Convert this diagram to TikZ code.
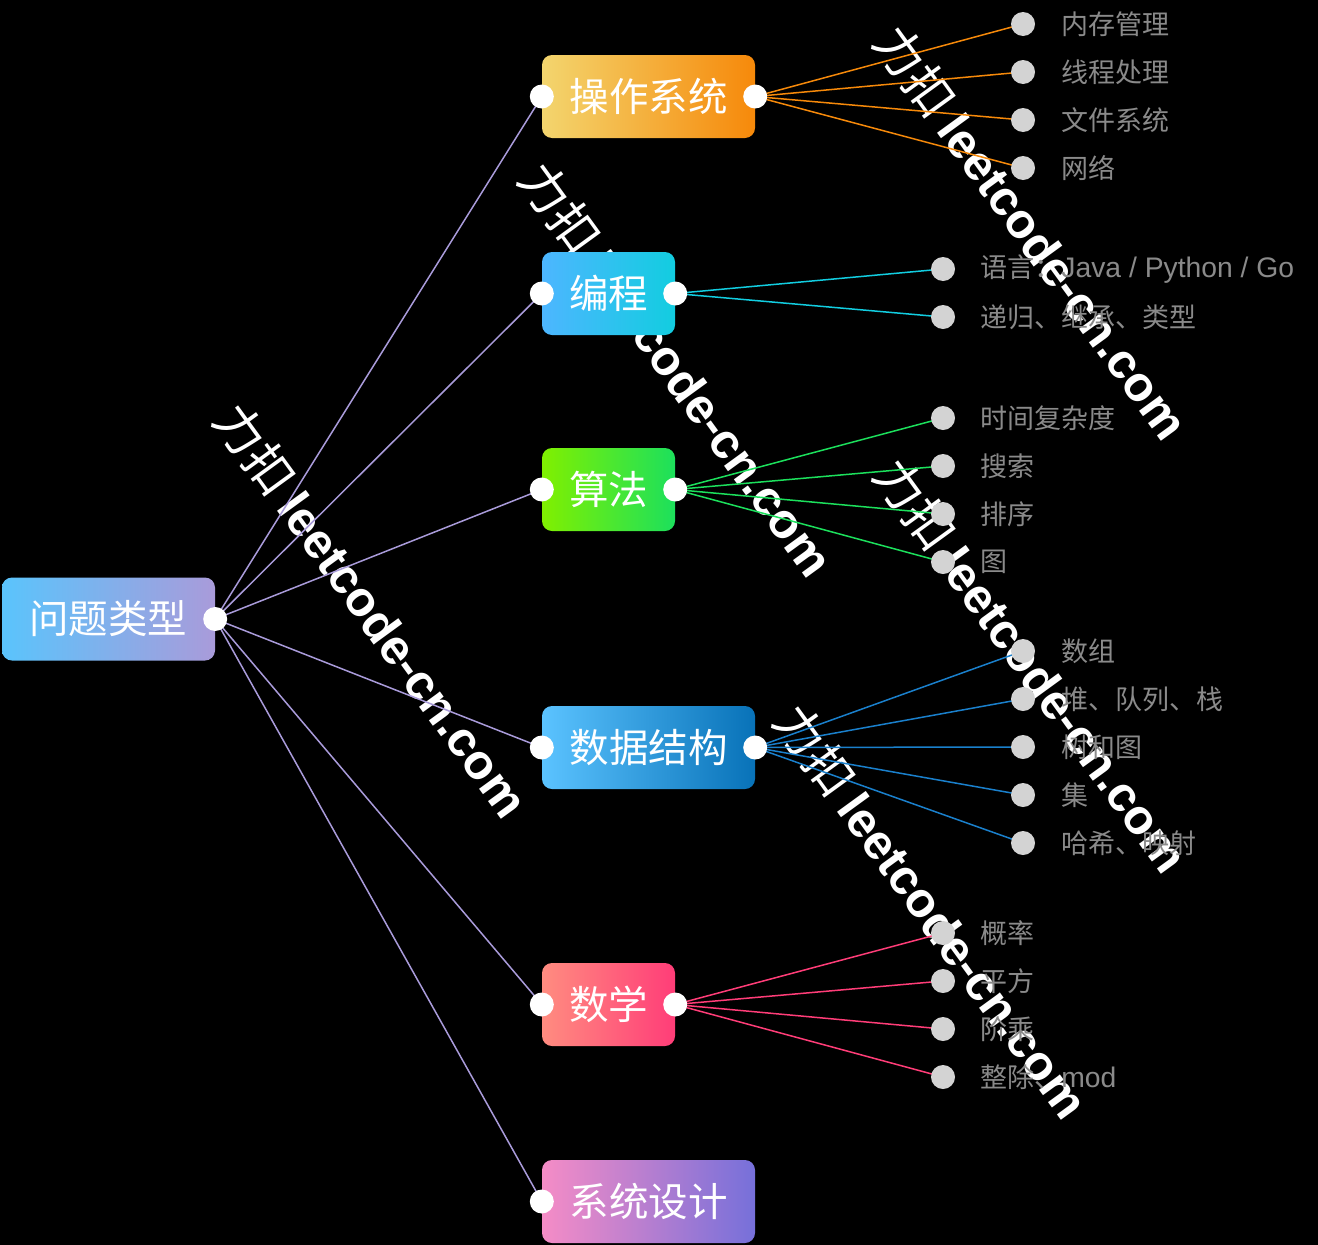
\documentclass[tikz,border=0pt]{standalone}
\usepackage{fontspec}
\setmainfont{Noto Sans CJK SC}
\newfontfamily\wmlat{Liberation Sans}
\pgfdeclarelayer{back}
\pgfdeclarelayer{lines}
\pgfsetlayers{back,lines,main}
\definecolor{rootL}{HTML}{5AC4FC}
\definecolor{rootR}{HTML}{A99BDA}
\definecolor{osL}{HTML}{F3D56E}
\definecolor{osR}{HTML}{F6890A}
\definecolor{pgL}{HTML}{4DB6FF}
\definecolor{pgR}{HTML}{12CDE0}
\definecolor{alL}{HTML}{80F000}
\definecolor{alR}{HTML}{1CE05C}
\definecolor{dsL}{HTML}{5BC3FF}
\definecolor{dsR}{HTML}{0872B8}
\definecolor{maL}{HTML}{FF8C80}
\definecolor{maR}{HTML}{FF3D78}
\definecolor{sdL}{HTML}{F58CC6}
\definecolor{sdR}{HTML}{7670DA}
\definecolor{dotgray}{HTML}{D3D3D3}
\definecolor{leafgray}{HTML}{8A8A8A}
\definecolor{dsline}{HTML}{1A80CC}
\newcommand{\latpart}[1]{{\wmlat\fontsize{28.3}{28.3}\selectfont #1}}
\tikzset{
  box/.style={rectangle, rounded corners=10pt, minimum height=83pt, text=white,
    font=\fontsize{39.5}{39.5}\selectfont, inner sep=0pt},
  wide/.style={minimum width=213pt},
  narrow/.style={minimum width=133pt},
  wdot/.style={circle, fill=white, minimum size=24pt, inner sep=0pt},
  gdot/.style={circle, fill=dotgray, minimum size=24pt, inner sep=0pt},
  leaf/.style={anchor=west, inner sep=0pt, text=leafgray, font=\fontsize{27}{27}\selectfont},
  conn/.style={line width=1.5pt},
  wm/.style={text=white, rotate=-54, font=\fontsize{49}{49}\selectfont, inner sep=0pt}
}
\begin{document}
\begin{tikzpicture}[x=1pt,y=-1pt]
\begin{pgfonlayer}{back}
  \fill[black] (0,0) rectangle (1318,1245);
  % watermarks (beneath everything else)
  \foreach \p [count=\k] in {(1032,232),(677,369),(372,610),(1032,665),(932,911)} {
    \node[wm] (wm\k) at \p {力扣 {\wmlat\bfseries leetcode-cn.com}};
  }
\end{pgfonlayer}
\useasboundingbox (0,0) rectangle (1318,1245);

% main boxes
\node[box, wide, left color=rootL, right color=rootR] (root) at (108.5,619) {问题类型};
\node[box, wide, left color=osL, right color=osR] (os) at (648.5,96.5) {操作系统};
\node[box, narrow, left color=pgL, right color=pgR] (pg) at (608.5,293.5) {编程};
\node[box, narrow, left color=alL, right color=alR] (al) at (608.5,489.5) {算法};
\node[box, wide, left color=dsL, right color=dsR] (ds) at (648.5,747.5) {数据结构};
\node[box, narrow, left color=maL, right color=maR] (ma) at (608.5,1004.5) {数学};
\node[box, wide, left color=sdL, right color=sdR] (sd) at (648.5,1201.5) {系统设计};

% white dots
\node[wdot] (rootR) at (root.east) {};
\foreach \b in {os,pg,al,ds,ma,sd} {
  \node[wdot] (\b L) at (\b.west) {};
}
\foreach \b in {os,pg,al,ds,ma} {
  \node[wdot] (\b R) at (\b.east) {};
}

% root connectors
\begin{pgfonlayer}{lines}
  \foreach \b in {os,pg,al,ds,ma,sd} {
    \draw[conn, rootR] (rootR.center) -- (\b L.center);
  }
\end{pgfonlayer}

% leaves: operating system
\foreach \t [count=\i] in {{内存管理},{线程处理},{文件系统},{网络}} {
  \node[gdot] (os\i) at (1023,{24+48*(\i-1)}) {};
  \node[leaf] (os\i t) at ([xshift=26pt]os\i.east) {\t};
  \begin{pgfonlayer}{lines}
    \draw[conn, osR] (osR.center) -- (os\i.center);
  \end{pgfonlayer}
}
% programming
\foreach \t [count=\i] in {{语言：\latpart{Java / Python / Go}},{递归、继承、类型}} {
  \node[gdot] (pg\i) at (943,{269+48*(\i-1)}) {};
  \node[leaf] (pg\i t) at ([xshift=25pt]pg\i.east) {\t};
  \begin{pgfonlayer}{lines}
    \draw[conn, pgR] (pgR.center) -- (pg\i.center);
  \end{pgfonlayer}
}
% algorithms
\foreach \t [count=\i] in {{时间复杂度},{搜索},{排序},{图}} {
  \node[gdot] (al\i) at (943,{418+48*(\i-1)}) {};
  \node[leaf] (al\i t) at ([xshift=25pt]al\i.east) {\t};
  \begin{pgfonlayer}{lines}
    \draw[conn, alR] (alR.center) -- (al\i.center);
  \end{pgfonlayer}
}
% data structures
\foreach \t [count=\i] in {{数组},{堆、队列、栈},{树和图},{集},{哈希、映射}} {
  \node[gdot] (ds\i) at (1023,{651+48*(\i-1)}) {};
  \node[leaf] (ds\i t) at ([xshift=26pt]ds\i.east) {\t};
  \begin{pgfonlayer}{lines}
    \draw[conn, dsline] (dsR.center) -- (ds\i.center);
  \end{pgfonlayer}
}
% math
\foreach \t [count=\i] in {{概率},{平方},{阶乘},{整除、\latpart{mod}}} {
  \node[gdot] (ma\i) at (943,{933+48*(\i-1)}) {};
  \node[leaf] (ma\i t) at ([xshift=25pt]ma\i.east) {\t};
  \begin{pgfonlayer}{lines}
    \draw[conn, maR] (maR.center) -- (ma\i.center);
  \end{pgfonlayer}
}
\end{tikzpicture}
\end{document}
